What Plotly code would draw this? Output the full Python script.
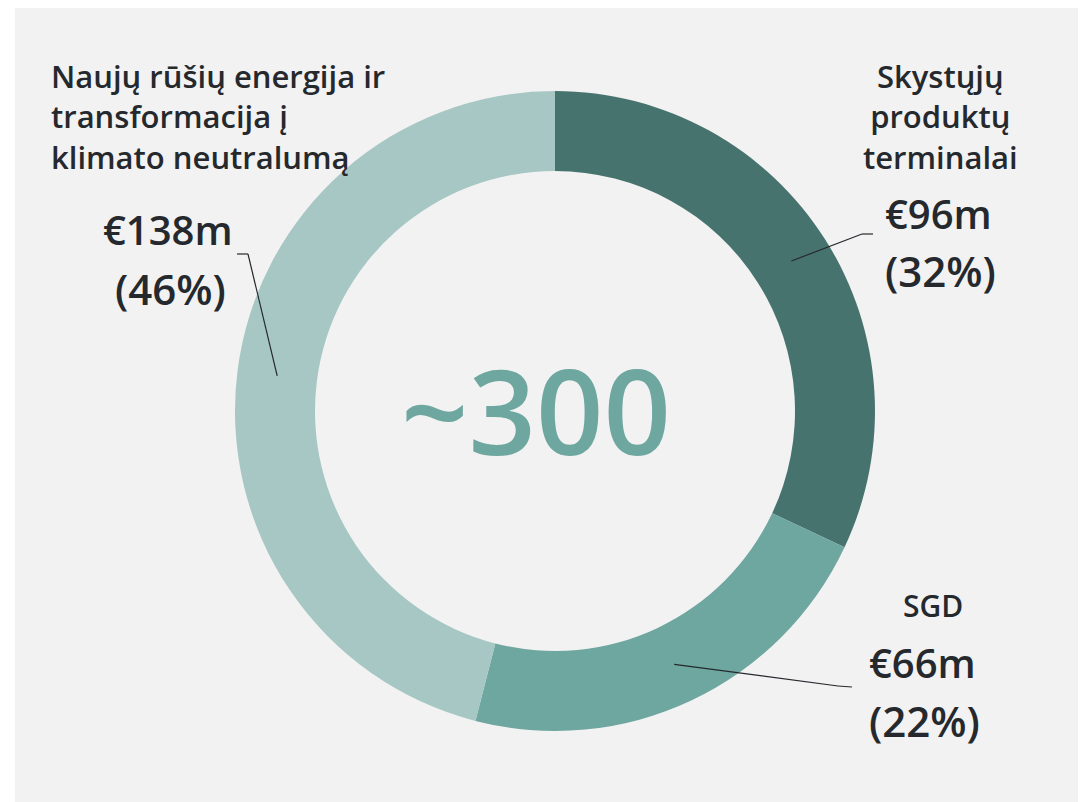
import math
import plotly.graph_objects as go

labels = ["Skystųjų<br>produktų<br>terminalai", "SGD", "Naujų rūšių energija ir<br>transformacija į<br>klimato neutralumą"]
values = [96, 66, 138]
colors = ["#47736e", "#6ea6a0", "#a7c7c4"]

W, H = 1086, 802
OFF = 8  # page body margin
# pie geometry in page pixels
cx, cy, R = 555, 411, 320
hole = 0.75
total = sum(values)


def px(x, y):
    return (x - OFF) / W, 1 - (y - OFF) / H


d0 = px(cx - R, cy + R)
d1 = px(cx + R, cy - R)
fig = go.Figure(go.Pie(
    labels=labels, values=values, hole=hole, sort=False, direction="clockwise",
    rotation=0, marker=dict(colors=colors, line=dict(width=0)),
    textinfo="none", hoverinfo="label+value+percent", showlegend=False,
    domain=dict(x=[d0[0], d1[0]], y=[d0[1], d1[1]]),
))

txt = "#25292d"
font = "Open Sans, Noto Sans, sans-serif"

label_pos = [
    dict(lx=940, ly=116, la="center", ls=31, vx=938, vy=213, py=270, elbow=[(862, 234), (873, 234)]),
    dict(lx=933, ly=605, la="center", ls=30, vx=922, vy=662, py=720, elbow=[(838, 686), (852, 687)]),
    dict(lx=49, ly=116, la="left", ls=31, vx=168, vy=230, py=288, elbow=[(248, 254), (237, 254)]),
]

annotations = []
r0 = px(15, 7)
r1 = px(1084, 810)
shapes = [dict(type="rect", xref="paper", yref="paper", x0=r0[0], x1=r1[0], y0=r1[1], y1=r0[1],
               fillcolor="#f2f2f2", line=dict(width=0), layer="below")]

start = 0
for i, v in enumerate(values):
    p = label_pos[i]
    mid = (start + v / 2) / total * 2 * math.pi
    start += v
    rm = R * (1 + hole) / 2
    sx, sy = cx + rm * math.sin(mid), cy - rm * math.cos(mid)
    pts = [(sx, sy)] + p["elbow"]
    for (x0, y0), (x1, y1) in zip(pts[:-1], pts[1:]):
        a, b = px(x0, y0)
        c, d = px(x1, y1)
        shapes.append(dict(type="line", xref="paper", yref="paper", x0=a, y0=b, x1=c, y1=d,
                           line=dict(color="#25292d", width=1.2)))
    x, y = px(p["lx"], p["ly"])
    annotations.append(dict(x=x, y=y, xref="paper", yref="paper", text=labels[i], showarrow=False,
                            xanchor=p["la"], yanchor="middle", align=p["la"],
                            font=dict(size=p["ls"], color=txt, family=font, weight=600)))
    x, y = px(p["vx"], p["vy"])
    annotations.append(dict(x=x, y=y, xref="paper", yref="paper", text=f"€{v}m", showarrow=False,
                            xanchor="center", yanchor="middle",
                            font=dict(size=40, color=txt, family=font, weight=600)))
    x, y = px(p["vx"] + 2, p["py"])
    annotations.append(dict(x=x, y=y, xref="paper", yref="paper", text=f"({round(v / total * 100)}%)",
                            showarrow=False, xanchor="center", yanchor="middle",
                            font=dict(size=42, color=txt, family=font, weight=600)))

x, y = px(536, 409)
annotations.append(dict(x=x, y=y, xref="paper", yref="paper", text=f"~{total}", showarrow=False,
                        xanchor="center", yanchor="middle",
                        font=dict(size=118, color="#6ea6a0", family=font, weight=600)))

fig.update_layout(width=W, height=H, margin=dict(l=0, r=0, t=0, b=0),
                  paper_bgcolor="white", plot_bgcolor="white",
                  annotations=annotations, shapes=shapes)
fig.write_html("out.html")
